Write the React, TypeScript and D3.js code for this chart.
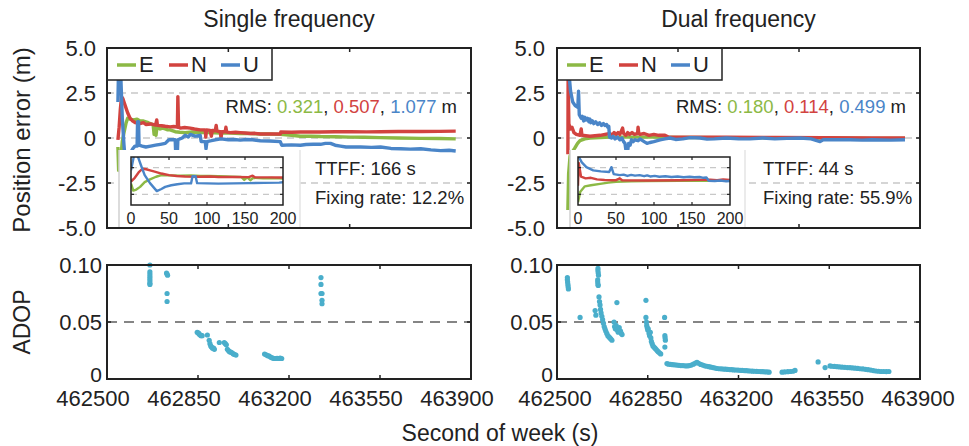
import React from 'react';
import * as d3 from 'd3';

// ---------------- data ----------------
const TIME_DOMAIN = [0, 1500];
const TIME_TICKS = [500, 1000];
const FIRST_EPOCH = 45;
const POS_TICKS = [5, 2.5, 0, -2.5, -5];
const POS_TICK_LABELS = ['5.0', '2.5', '0', '-2.5', '-5.0'];
const POS_GRID = [2.5, 0, -2.5];
const INSET_TICKS = [0, 50, 100, 150, 200];
const INSET_GRID = [2.5, -2.5];
const SOW_TICKS = [462500, 462850, 463200, 463550, 463900];
const ADOP_TICKS = [0, 0.05, 0.1];
const ADOP_TICK_LABELS = ['0', '0.05', '0.10'];
const ADOP_LIMIT = 0.05;
const COMPONENTS = ['E', 'N', 'U'];

const singleE: [number, number][] = [
  [45, -0.5], [48, -1.8], [52, -1.6], [57, -1.1], [63, -0.2], [70, 0.3], [78, 0.8], [85, 1.1], [95, 1.05],
  [110, 1.0], [124, 1.05], [136, 0.95], [148, 0.95], [160, 0.9], [170, 0.85], [178, 0.8], [190, 0.75], [194, 0.2],
  [198, 0.7], [202, 0.15], [206, 0.6], [219, 0.5], [230, 0.55], [240, 0.5], [250, 0.45], [260, 0.45], [281, 0.35],
  [300, 0.32], [322, 0.3], [350, 0.33], [384, 0.3], [420, 0.3], [467, 0.28], [510, 0.27], [549, 0.25], [590, 0.25],
  [632, 0.22], [670, 0.22], [714, 0.2], [760, 0.15], [797, 0.1], [840, 0.1], [880, 0.08], [940, 0.07],
  [1004, 0.05], [1060, 0.04], [1127, 0.02], [1200, 0.0], [1293, -0.02], [1370, -0.03], [1437, -0.05],
];
const singleN: [number, number][] = [
  [45, -0.1], [50, 0.6], [55, 1.6], [60, 2.3], [65, 2.2], [70, 2.0], [75, 1.8], [85, 1.4], [95, 1.1], [105, 0.95],
  [116, 0.85], [136, 0.8], [150, 0.85], [160, 0.75], [180, 0.78], [200, 0.72], [205, 1.0], [208, 0.7], [225, 0.68],
  [240, 0.65], [260, 0.62], [275, 0.64], [290, 0.6], [292, 2.3], [295, 0.6], [302, 0.55], [320, 0.58], [343, 0.55],
  [360, 0.5], [384, 0.45], [405, 0.45], [407, 0.05], [410, 0.45], [425, 0.42], [430, 0.1], [434, 0.42], [446, 0.4],
  [450, 0.7], [453, 0.38], [467, 0.35], [470, 0.0], [473, 0.35], [487, 0.35], [490, 0.6], [493, 0.33], [508, 0.3],
  [530, 0.32], [549, 0.3], [570, 0.28], [591, 0.25], [610, 0.26], [632, 0.22], [673, 0.22], [714, 0.22],
  [716, 0.33], [760, 0.32], [797, 0.33], [840, 0.34], [880, 0.33], [940, 0.35], [1004, 0.35], [1070, 0.34],
  [1127, 0.35], [1200, 0.36], [1293, 0.36], [1370, 0.37], [1437, 0.38],
];
const singleU: [number, number][] = [
  [45, 2.0], [49, 4.8], [54, 4.6], [58, 3.0], [63, 1.1], [70, -0.4], [79, -1.9], [85, -1.5], [90, -1.1], [98, -0.8],
  [106, -0.6], [115, -0.45], [124, -0.45], [126, 0.9], [130, 0.9], [132, -0.4], [145, -0.45], [160, -0.5],
  [180, -0.45], [200, -0.4], [220, -0.35], [240, -0.3], [255, -0.1], [281, -0.1], [283, -0.8], [290, -0.8],
  [292, -0.1], [310, 0.0], [322, 0.15], [335, 0.05], [343, 0.2], [363, 0.1], [384, 0.15], [388, -0.2], [405, -0.2],
  [408, -0.6], [412, -0.2], [430, -0.15], [446, -0.1], [470, -0.05], [500, -0.1], [525, -0.08], [549, -0.12],
  [575, -0.08], [600, -0.1], [632, -0.15], [670, -0.17], [714, -0.2], [720, -0.4], [760, -0.38], [797, -0.4],
  [820, -0.36], [850, -0.35], [880, -0.35], [900, -0.3], [921, -0.3], [940, -0.4], [962, -0.45], [985, -0.5],
  [1004, -0.5], [1045, -0.5], [1090, -0.52], [1127, -0.5], [1170, -0.58], [1210, -0.6], [1250, -0.62],
  [1293, -0.6], [1335, -0.66], [1375, -0.7], [1410, -0.68], [1437, -0.72],
];

const dualE: [number, number][] = [
  [45, -4.0], [48, -2.0], [54, -1.0], [62, -0.8], [74, -0.55], [85, -0.3], [95, -0.15], [115, -0.05], [136, 0.0],
  [178, 0.02], [219, 0.05], [300, 0.05], [400, 0.05], [500, 0.03], [700, 0.02], [900, 0.0], [1100, 0.0],
  [1300, -0.02], [1438, -0.02],
];
const dualN: [number, number][] = [
  [45, -0.9], [46, 3.4], [49, 0.8], [55, 0.5], [62, 0.6], [70, 0.3], [80, 0.2], [95, 0.15], [100, 0.5], [103, 0.15],
  [136, 0.1], [178, 0.15], [219, 0.25], [228, 0.15], [236, 0.3], [245, 0.2], [252, 0.3], [260, 0.2], [271, 0.55],
  [275, 0.25], [285, 0.15], [292, 0.3], [300, 0.2], [310, 0.3], [320, 0.2], [333, 0.25], [335, 0.6], [338, 0.25],
  [343, 0.2], [360, 0.25], [380, 0.15], [400, 0.2], [420, 0.15], [446, 0.15], [460, 0.05], [550, 0.05],
  [700, 0.05], [900, 0.03], [1100, 0.02], [1300, 0.0], [1438, 0.0],
];
const dualU: [number, number][] = [
  [45, 4.8], [50, 3.5], [56, 2.6], [65, 2.0], [75, 1.8], [86, 1.7], [89, 2.6], [92, 1.3], [100, 1.1], [105, 1.2],
  [110, 0.95], [115, 1.15], [120, 1.0], [126, 1.1], [132, 0.9], [136, 1.05], [140, 0.85], [146, 0.95], [152, 0.8],
  [160, 0.9], [168, 0.75], [176, 0.85], [184, 0.7], [192, 0.8], [198, 0.7], [205, 0.75], [210, 0.6], [214, 0.65],
  [217, 0.05], [225, 0.0], [232, 0.1], [240, -0.05], [250, 0.05], [260, -0.1], [268, 0.0], [275, -0.2],
  [281, -0.3], [285, -0.7], [292, -0.7], [296, -0.3], [302, -0.4], [308, -0.1], [315, -0.2], [322, -0.1],
  [335, -0.15], [343, -0.05], [360, -0.2], [372, -0.3], [384, -0.25], [400, -0.2], [426, -0.1], [446, -0.05],
  [467, 0.0], [490, -0.08], [520, -0.05], [550, 0.02], [591, 0.0], [620, -0.06], [650, -0.05], [700, 0.0],
  [750, -0.04], [797, -0.05], [850, 0.0], [900, -0.05], [950, -0.02], [1004, 0.0], [1050, -0.05], [1087, -0.2],
  [1100, -0.1], [1150, -0.1], [1211, -0.1], [1260, -0.12], [1300, -0.1], [1380, -0.12], [1438, -0.1],
];

const singleAdop: [number, number][] = [
  [462665, 0.1], [462665, 0.094], [462665, 0.092], [462665, 0.09], [462665, 0.088], [462665, 0.086],
  [462665, 0.084], [462665, 0.083],
  [462729, 0.093], [462731, 0.092], [462733, 0.091], [462731, 0.075], [462731, 0.068],
  [462847, 0.041], [462850, 0.0405], [462853, 0.04], [462856, 0.039], [462859, 0.0385], [462862, 0.038],
  [462866, 0.038], [462886, 0.0386],
  [462893, 0.034], [462896, 0.031], [462899, 0.029], [462902, 0.028], [462906, 0.027], [462910, 0.027],
  [462913, 0.026], [462932, 0.032], [462951, 0.032], [462955, 0.031], [462959, 0.03], [462963, 0.026],
  [462967, 0.025], [462971, 0.024], [462976, 0.0235], [462981, 0.023], [462986, 0.022], [462991, 0.0215],
  [462996, 0.021],
  [463106, 0.0219], [463112, 0.0212], [463118, 0.0205], [463124, 0.02], [463130, 0.019], [463136, 0.0185],
  [463142, 0.018], [463148, 0.018], [463154, 0.0182], [463160, 0.018], [463166, 0.0183], [463172, 0.018],
  [463323, 0.089], [463323, 0.083], [463323, 0.075], [463327, 0.075], [463327, 0.069], [463327, 0.066],
];
const dualAdop: [number, number][] = [
  [462540, 0.089], [462540, 0.087], [462541, 0.085], [462542, 0.083], [462543, 0.081], [462544, 0.079],
  [462589, 0.054],
  [462658, 0.097], [462658, 0.095], [462659, 0.093], [462660, 0.091], [462657, 0.087], [462657, 0.085],
  [462658, 0.083], [462659, 0.082], [462647, 0.06], [462650, 0.056],
  [462662, 0.072], [462664, 0.068], [462666, 0.065], [462668, 0.061], [462670, 0.058], [462673, 0.055],
  [462676, 0.052], [462679, 0.049], [462682, 0.046], [462685, 0.044], [462688, 0.042], [462692, 0.04],
  [462696, 0.038], [462700, 0.037], [462704, 0.036], [462708, 0.035], [462712, 0.034],
  [462731, 0.067],
  [462720, 0.05], [462722, 0.046], [462725, 0.044], [462728, 0.047], [462732, 0.043], [462736, 0.041],
  [462740, 0.045], [462745, 0.042], [462748, 0.04], [462751, 0.039],
  [462843, 0.069], [462843, 0.054], [462845, 0.05], [462846, 0.047], [462848, 0.045], [462850, 0.043],
  [462852, 0.044], [462855, 0.04], [462857, 0.038], [462860, 0.041], [462862, 0.036], [462864, 0.033],
  [462867, 0.031], [462870, 0.029], [462874, 0.028], [462878, 0.027], [462882, 0.026], [462886, 0.025],
  [462890, 0.024], [462895, 0.023], [462900, 0.022],
  [462915, 0.054], [462916, 0.038], [462917, 0.036], [462918, 0.034], [462916, 0.028],
  [462924, 0.0135], [462930, 0.013], [462938, 0.0128], [462946, 0.0126], [462954, 0.0124], [462962, 0.0122],
  [462970, 0.012], [462978, 0.0118], [462986, 0.0118], [462994, 0.0116], [463002, 0.0115], [463010, 0.0118],
  [463018, 0.0122], [463026, 0.013], [463034, 0.014], [463040, 0.0145], [463046, 0.0138], [463054, 0.0128],
  [463062, 0.0122], [463070, 0.0116], [463078, 0.0112], [463086, 0.0108], [463094, 0.0104], [463102, 0.01],
  [463110, 0.0096], [463118, 0.0092], [463126, 0.009], [463134, 0.0089], [463142, 0.0087], [463150, 0.0086],
  [463158, 0.0084], [463166, 0.0083], [463174, 0.0082], [463182, 0.008], [463190, 0.0079], [463198, 0.0078],
  [463206, 0.0076], [463214, 0.0075], [463222, 0.0074], [463230, 0.0073], [463238, 0.0072], [463246, 0.007],
  [463254, 0.0069], [463262, 0.0068], [463270, 0.0067], [463278, 0.0066], [463286, 0.0065], [463294, 0.0064],
  [463302, 0.0063], [463310, 0.0062], [463318, 0.006],
  [463368, 0.006], [463378, 0.0062], [463390, 0.0064], [463400, 0.0066], [463410, 0.0068], [463418, 0.0075],
  [463507, 0.015], [463534, 0.01],
  [463553, 0.0115], [463560, 0.0112], [463570, 0.011], [463580, 0.0108], [463590, 0.0106], [463600, 0.0104],
  [463610, 0.0102], [463620, 0.01], [463630, 0.0099], [463640, 0.0097], [463650, 0.0095], [463660, 0.0093],
  [463670, 0.009], [463680, 0.0088], [463690, 0.0085], [463700, 0.0082], [463710, 0.0078], [463720, 0.0074],
  [463730, 0.007], [463740, 0.0068], [463750, 0.0066], [463760, 0.0066], [463770, 0.0065], [463780, 0.0066],
];

const TITLES = ['Single frequency', 'Dual frequency'];
const RMS_VALUES = [['0.321', '0.507', '1.077'], ['0.180', '0.114', '0.499']];
const TTFF_VALUES = [166, 44];
const FIXING_RATES = ['12.2', '55.9'];

// ---------------- style/layout ----------------
const COLORS = ['#8cb945', '#d2433f', '#4a85c8'];
const DOT = '#4aaecb';
const INK = '#222';
const FONT = 'Liberation Sans, Arial, Helvetica, sans-serif';

const LAYOUT = [
  { x0: 107, x1: 471, insetDx: 24, boxDx: 12, boxW: 181, ttffDx: 208, yLabDx: -11, adopLabDx: -5, xLabDx: -14 },
  { x0: 557, x1: 920, insetDx: 21, boxDx: 13, boxW: 175, ttffDx: 206, yLabDx: -12, adopLabDx: -4, xLabDx: -2 },
];
const TOP = { y0: 48, y1: 228 };
const BOT = { y0: 265, y1: 379 };
const INSET = { y0: 157, y1: 205, w: 152 };

function TopPanel({ idx }: { idx: number }) {
  const L = LAYOUT[idx];
  const series = idx === 0 ? [singleE, singleN, singleU] : [dualE, dualN, dualU];
  const x = d3.scaleLinear().domain(TIME_DOMAIN).range([L.x0, L.x1]);
  const y = d3.scaleLinear().domain([-5, 5]).range([TOP.y1, TOP.y0]);
  const ix0 = L.x0 + L.insetDx;
  const ix = d3.scaleLinear().domain([0, 200]).range([ix0, ix0 + INSET.w]);
  const iy = d3.scaleLinear().domain([-4.5, 4.5]).range([INSET.y1, INSET.y0]);
  const line = d3.line<[number, number]>().x(d => x(d[0])).y(d => y(d[1]));
  const iline = d3.line<[number, number]>().x(d => ix(d[0] - FIRST_EPOCH)).y(d => iy(d[1]));
  const clipId = `clipTop${idx}`;
  const iclipId = `clipInset${idx}`;
  const rms = RMS_VALUES[idx];
  return (
    <g>
      <defs>
        <clipPath id={clipId}>
          <rect x={L.x0} y={TOP.y0} width={L.x1 - L.x0} height={TOP.y1 - TOP.y0} />
        </clipPath>
        <clipPath id={iclipId}>
          <rect x={ix0} y={INSET.y0} width={INSET.w} height={INSET.y1 - INSET.y0} />
        </clipPath>
      </defs>
      {POS_GRID.map(v => (
        <line key={v} x1={L.x0} x2={L.x1} y1={y(v)} y2={y(v)} stroke="#c8c8c8" strokeWidth={1.5} strokeDasharray="7,5" />
      ))}
      <g clipPath={`url(#${clipId})`}>
        {series.map((s, i) => (
          <path key={i} d={line(s) || ''} fill="none" stroke={COLORS[i]} strokeWidth={3.4} strokeLinejoin="round" />
        ))}
      </g>
      {/* inset background */}
      <rect x={L.x0 + L.boxDx} y={150} width={L.boxW} height={TOP.y1 - 150} fill="#fff" />
      <line x1={L.x0 + L.boxDx} x2={L.x0 + L.boxDx} y1={150} y2={TOP.y1} stroke="#d0d0d0" strokeWidth={1.5} />
      <line x1={L.x0 + L.boxDx + L.boxW} x2={L.x0 + L.boxDx + L.boxW} y1={150} y2={TOP.y1} stroke="#e4e4e4" strokeWidth={1.5} />
      {INSET_GRID.map(v => (
        <line key={v} x1={ix0} x2={ix0 + INSET.w} y1={iy(v)} y2={iy(v)} stroke="#c8c8c8" strokeWidth={1.3} strokeDasharray="6,5" />
      ))}
      <g clipPath={`url(#${iclipId})`}>
        {series.map((s, i) => (
          <path key={i} d={iline(s) || ''} fill="none" stroke={COLORS[i]} strokeWidth={2.4} strokeLinejoin="round" />
        ))}
      </g>
      <rect x={ix0} y={INSET.y0} width={INSET.w} height={INSET.y1 - INSET.y0} fill="none" stroke={INK} strokeWidth={1.5} />
      {INSET_TICKS.slice(1, -1).map(t => (
        <g key={t}>
          <line x1={ix(t)} x2={ix(t)} y1={INSET.y0} y2={INSET.y0 + 3} stroke={INK} strokeWidth={1.2} />
          <line x1={ix(t)} x2={ix(t)} y1={INSET.y1} y2={INSET.y1 - 3} stroke={INK} strokeWidth={1.2} />
        </g>
      ))}
      {INSET_GRID.map(v => (
        <g key={v}>
          <line x1={ix0} x2={ix0 + 3} y1={iy(v)} y2={iy(v)} stroke={INK} strokeWidth={1.2} />
          <line x1={ix0 + INSET.w} x2={ix0 + INSET.w - 3} y1={iy(v)} y2={iy(v)} stroke={INK} strokeWidth={1.2} />
        </g>
      ))}
      {INSET_TICKS.map(t => (
        <text key={t} x={ix(t)} y={224} textAnchor="middle" fontSize={16} fill={INK}>{t}</text>
      ))}
      {/* texts */}
      <text x={L.x1 - 14} y={113} textAnchor="end" fontSize={18.5} fill={INK}>
        RMS: <tspan fill={COLORS[0]}>{rms[0]}</tspan>, <tspan fill={COLORS[1]}>{rms[1]}</tspan>, <tspan fill={COLORS[2]}>{rms[2]}</tspan> m
      </text>
      <text x={L.x0 + L.ttffDx} y={175} fontSize={18.5} fill={INK}>{`TTFF: ${TTFF_VALUES[idx]} s`}</text>
      <text x={L.x0 + L.ttffDx} y={204} fontSize={18.5} fill={INK}>{`Fixing rate: ${FIXING_RATES[idx]}%`}</text>
      {/* legend */}
      <rect x={L.x0} y={TOP.y0} width={165} height={32} fill="#fff" stroke={INK} strokeWidth={1.5} />
      {COMPONENTS.map((c, i) => (
        <g key={c} transform={`translate(${L.x0 + 10 + i * 52},0)`}>
          <line x1={0} x2={19} y1={65} y2={65} stroke={COLORS[i]} strokeWidth={3.5} />
          <text x={22} y={72} fontSize={22} fill={INK}>{c}</text>
        </g>
      ))}
      {/* frame + ticks */}
      <rect x={L.x0} y={TOP.y0} width={L.x1 - L.x0} height={TOP.y1 - TOP.y0} fill="none" stroke={INK} strokeWidth={2} />
      {POS_TICKS.map((v, i) => (
        <g key={v}>
          <line x1={L.x0} x2={L.x0 + 4} y1={y(v)} y2={y(v)} stroke={INK} strokeWidth={1.5} />
          <line x1={L.x1} x2={L.x1 - 4} y1={y(v)} y2={y(v)} stroke={INK} strokeWidth={1.5} />
          <text x={L.x0 + L.yLabDx} y={y(v)} dy="0.36em" textAnchor="end" fontSize={22} fill={INK}>{POS_TICK_LABELS[i]}</text>
        </g>
      ))}
      {TIME_TICKS.map(t => (
        <g key={t}>
          <line x1={x(t)} x2={x(t)} y1={TOP.y0} y2={TOP.y0 + 4} stroke={INK} strokeWidth={1.5} />
          <line x1={x(t)} x2={x(t)} y1={TOP.y1} y2={TOP.y1 - 4} stroke={INK} strokeWidth={1.5} />
        </g>
      ))}
      <text x={(L.x0 + L.x1) / 2} y={27} textAnchor="middle" fontSize={23} fill={INK}>{TITLES[idx]}</text>
    </g>
  );
}

function BottomPanel({ idx }: { idx: number }) {
  const L = LAYOUT[idx];
  const data = idx === 0 ? singleAdop : dualAdop;
  const x = d3.scaleLinear().domain([SOW_TICKS[0], SOW_TICKS[SOW_TICKS.length - 1]]).range([L.x0, L.x1]);
  const y = d3.scaleLinear().domain([0, 0.1]).range([BOT.y1, BOT.y0]);
  return (
    <g>
      <line x1={L.x0} x2={L.x1} y1={y(ADOP_LIMIT)} y2={y(ADOP_LIMIT)} stroke="#858585" strokeWidth={2} strokeDasharray="10,7" />
      {data.map((d, i) => (
        <circle key={i} cx={x(d[0])} cy={y(d[1])} r={2.6} fill={DOT} />
      ))}
      <rect x={L.x0} y={BOT.y0} width={L.x1 - L.x0} height={BOT.y1 - BOT.y0} fill="none" stroke={INK} strokeWidth={2} />
      {ADOP_TICKS.map((v, i) => (
        <g key={v}>
          <line x1={L.x0} x2={L.x0 + 4} y1={y(v)} y2={y(v)} stroke={INK} strokeWidth={1.5} />
          <line x1={L.x1} x2={L.x1 - 4} y1={y(v)} y2={y(v)} stroke={INK} strokeWidth={1.5} />
          <text x={L.x0 + L.adopLabDx} y={y(v)} dy={i === 0 ? '0.15em' : '0.36em'} textAnchor="end" fontSize={i === 0 ? 21 : 22} fill={INK}>{ADOP_TICK_LABELS[i]}</text>
        </g>
      ))}
      {SOW_TICKS.map(t => (
        <g key={t}>
          <line x1={x(t)} x2={x(t)} y1={BOT.y0} y2={BOT.y0 + 4} stroke={INK} strokeWidth={1.5} />
          <line x1={x(t)} x2={x(t)} y1={BOT.y1} y2={BOT.y1 - 4} stroke={INK} strokeWidth={1.5} />
          <text x={x(t) + L.xLabDx} y={406} textAnchor="middle" fontSize={22} fill={INK}>{t}</text>
        </g>
      ))}
    </g>
  );
}

export default function App() {
  return (
    <svg width={969} height={446} style={{ position: 'absolute', left: 0, top: 0, background: '#fff' }} fontFamily={FONT}>
      <rect width={969} height={446} fill="#fff" />
      <TopPanel idx={0} />
      <TopPanel idx={1} />
      <BottomPanel idx={0} />
      <BottomPanel idx={1} />
      <text transform="translate(30,140) rotate(-90)" textAnchor="middle" fontSize={24} fill={INK}>Position error (m)</text>
      <text transform="translate(30,322) rotate(-90)" textAnchor="middle" fontSize={23} fill={INK}>ADOP</text>
      <text x={500} y={441} textAnchor="middle" fontSize={23} fill={INK}>Second of week (s)</text>
    </svg>
  );
}
